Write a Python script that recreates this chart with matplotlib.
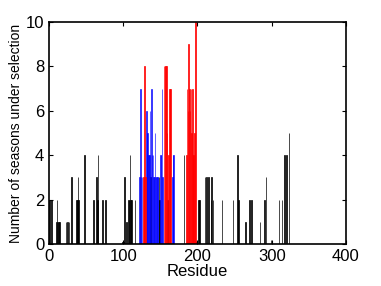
import numpy as np
import matplotlib
matplotlib.use("Agg")
import matplotlib.pyplot as plt

plt.rcParams['font.family'] = ['Liberation Sans', 'DejaVu Sans']

# residues under selection (black)
black_res = [1, 3, 10, 11, 12, 13, 14, 23, 25, 27, 30, 37, 38, 39, 40, 48,
             60, 64, 65, 66, 72, 76, 99, 100, 102, 104, 107, 108, 109, 110, 111,
             116, 137, 148, 149, 160, 182, 199, 201, 203, 210, 212, 215, 218,
             219, 221, 233, 248, 254, 255, 265, 270, 273, 284, 290, 292, 299,
             310, 314, 317, 320, 323]
black_val = [2, 2, 1, 2, 1, 1, 1, 1, 1, 1, 3, 2, 2, 3, 2, 4,
             2, 3, 2, 4, 2, 2, 0.1, 0.1, 3, 1, 2, 2, 4, 2, 2,
             2, 3, 3, 2, 2, 4, 0.1, 2, 2, 3, 3, 3, 2,
             3, 2, 2, 2, 4, 2, 1, 2, 2, 1, 2, 3, 0.2,
             2, 2, 4, 4, 5]

# blue group
blue_res = [122, 123, 124, 125, 131, 132, 133, 134, 135, 136, 138, 139, 140,
            141, 142, 143, 144, 145, 146, 147, 150, 151, 152, 153, 166, 167, 168]
blue_val = [3, 7, 3, 3, 6, 5, 5, 4, 4, 6, 7, 4, 4,
            3, 3, 5, 3, 3, 3, 3, 4, 4, 7, 3, 3, 4, 4]

# red group
red_res = [127, 128, 129, 130, 155, 156, 157, 158, 159, 161, 162, 163, 164,
           185, 186, 187, 188, 189, 190, 191, 192, 193, 194, 195, 196, 197]
red_val = [3, 3, 8, 3, 8, 8, 8, 8, 5, 4, 7, 7, 7,
           4, 7, 6, 9, 7, 6, 7, 5, 7, 4, 4, 5, 10]

fig = plt.figure(figsize=(3.81, 2.86), dpi=100)
ax = fig.add_axes([0.1286, 0.1469, 0.7795, 0.7762])

ax.bar(black_res, black_val, width=0.8, color='k', edgecolor='k', linewidth=0.5)
ax.bar(blue_res, blue_val, width=0.8, color='b', edgecolor='b', linewidth=0.5, alpha=0.85)
ax.bar(red_res, red_val, width=0.8, color='r', edgecolor='r', linewidth=0.5)

ax.set_xlim(0, 400)
ax.set_ylim(0, 10)
ax.set_xticks([0, 100, 200, 300, 400])
ax.set_yticks([0, 2, 4, 6, 8, 10])
ax.tick_params(direction='in', top=True, right=True, labelsize=12, length=3, width=0.8)
for s in ax.spines.values():
    s.set_linewidth(1.2)

ax.set_xlabel("Residue", fontsize=12, labelpad=0)
ax.set_ylabel("Number of seasons under selection", fontsize=10, labelpad=2)

fig.savefig("out.png", dpi=100)
